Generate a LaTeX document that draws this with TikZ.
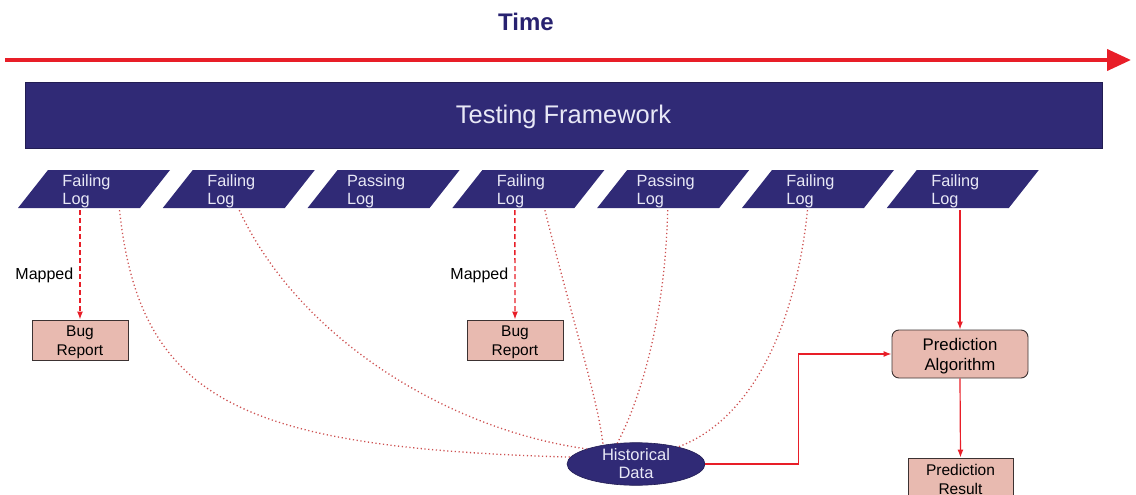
\documentclass[tikz,border=0pt]{standalone}
\usepackage{fontspec}
\setmainfont{Liberation Sans}
\usetikzlibrary{shapes.geometric,arrows.meta}

\definecolor{navy}{RGB}{48,42,118}
\definecolor{timeblue}{RGB}{40,34,112}
\definecolor{lavender}{RGB}{232,232,246}
\definecolor{pinkfill}{RGB}{232,186,176}
\definecolor{boxline}{RGB}{60,50,50}
\definecolor{flowred}{RGB}{232,30,40}
\definecolor{dotred}{RGB}{205,80,80}

% invisible strut that adds room above the first text line
\newcommand\toppad[1]{\rule{0pt}{#1}}

\tikzset{
  logtext/.style={text=lavender, align=left, inner sep=0pt,
    minimum height=38pt, font=\fontsize{16.3}{18}\selectfont},
  logshape/.style={fill=navy},
  pinkbox/.style={draw=boxline, fill=pinkfill, line width=0.9pt, align=center,
    inner sep=0pt, font=\fontsize{15.5}{19}\selectfont},
  mapped/.style={draw=flowred, line width=1.4pt, dash pattern=on 5pt off 3pt,
    -{Latex[length=8pt,width=6pt]}},
  flow/.style={draw=flowred, line width=1.2pt, -{Latex[length=8pt,width=6pt]}},
  history/.style={draw=dotred, line width=1.3pt, dash pattern=on 1.2pt off 2.6pt},
  lbl/.style={font=\fontsize{16}{18}\selectfont, inner sep=1pt}
}

\begin{document}
\begin{tikzpicture}[x=1pt,y=-1pt]
\path[use as bounding box] (0,0) rectangle (1136,495);
\clip (0,0) rectangle (1136,495);

% time axis
\node[font=\bfseries\fontsize{24}{26}\selectfont, text=timeblue] (time) at (526,22) {Time};
\coordinate (tstart) at (5,60);
\coordinate (tend) at (1131,60);
\draw[flowred, line width=4pt, -{Triangle[length=24pt,width=21pt]}] (tstart) -- (tend);

% framework bar
\node[fill=navy, draw=navy!70!black, line width=0.6pt, minimum width=1077pt,
  minimum height=66pt, inner sep=0pt, text=lavender,
  font=\fontsize{25.5}{28}\selectfont] (tf) at (563.5,115)
  {\raisebox{-8.5pt}[0pt][0pt]{Testing Framework}};

% sequence of test logs
\foreach \i/\t in {0/Failing,1/Failing,2/Passing,3/Failing,4/Passing,5/Failing,6/Failing}{
  \fill[logshape] ({18+144.8*\i},208) -- ({48+144.8*\i},170) -- ({170+144.8*\i},170)
    -- ({140+144.8*\i},208) -- cycle;
  \node[logtext] (log\i) at ({86.5+144.8*\i},191) {\t\\Log};
}

% bug reports
\node[pinkbox, minimum width=96pt, minimum height=40pt] (bug1) at (80,340)
  {\toppad{15.5pt}Bug\\Report};
\node[pinkbox, minimum width=96pt, minimum height=40pt] (bug2) at (515,340)
  {\toppad{15.5pt}Bug\\Report};

\draw[mapped] ([xshift=-6.5pt]log0.south) -- (bug1.north)
  node[lbl, pos=0.6, left=5pt] (map1) {Mapped};
\draw[mapped] ([xshift=-6pt]log3.south) -- (bug2.north)
  node[lbl, pos=0.6, left=5pt] (map2) {Mapped};

% prediction
\node[pinkbox, rounded corners=7pt, minimum width=136pt, minimum height=48pt,
  font=\fontsize{16.8}{19.5}\selectfont] (alg) at (960,354) {\toppad{16pt}Prediction\\Algorithm};
\node[pinkbox, minimum width=105pt, minimum height=42pt] (res) at (960.5,479)
  {\toppad{9pt}Prediction\\Result};

% historical data
\node[ellipse, fill=navy, draw=navy!70!black, line width=0.6pt, minimum width=138pt,
  minimum height=42pt, inner sep=0pt, align=center, text=lavender,
  font=\fontsize{16.5}{18}\selectfont] (hist) at (636,464) {Historical\\Data};

\draw[flow] (log6.south -| alg.north) -- (alg.north);
\draw[flow] (alg.south) -- (res.north);
\draw[flow] (hist.east) -- ++(93,0) |- (alg.west);

% logs feeding the history
\draw[history] ([xshift=33pt]log0.south) .. controls (140,400) and (240,448) .. (hist.174);
\draw[history] ([xshift=8pt]log1.south) .. controls (300,340) and (450,430) .. (hist.163);
\draw[history] ([xshift=24pt]log3.south) .. controls (575,330) and (598,400) .. (hist.150);
\draw[history] ([xshift=2pt]log4.south) .. controls (665,320) and (640,400) .. (hist.132);
\draw[history] ([xshift=-3pt]log5.south) .. controls (795,330) and (750,420) .. (hist.22);
\end{tikzpicture}
\end{document}
